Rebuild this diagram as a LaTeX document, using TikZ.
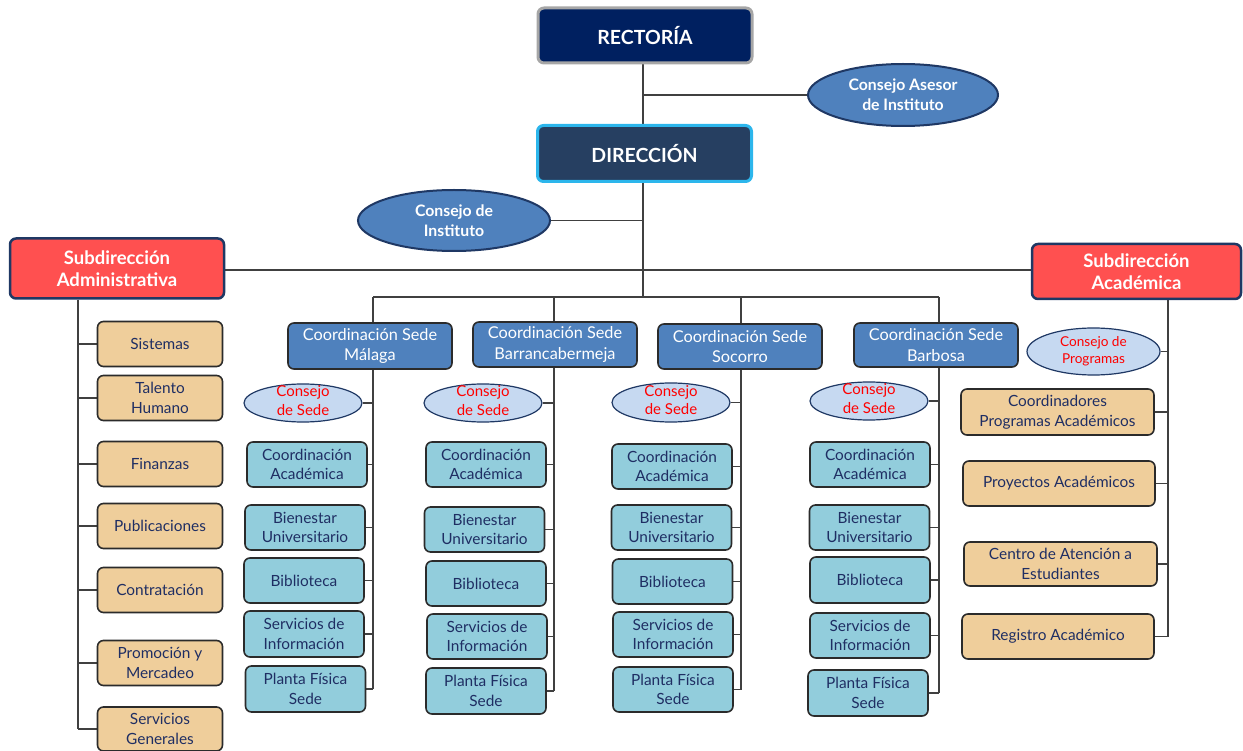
\documentclass[tikz,border=0pt]{standalone}
\usepackage{fontspec}
\setmainfont{Lato}
\usetikzlibrary{shapes.geometric,backgrounds}

\definecolor{rectfill}{HTML}{002060}
\definecolor{rectedge}{HTML}{A6A6A6}
\definecolor{dirfill}{HTML}{263F61}
\definecolor{diredge}{HTML}{2CB6EC}
\definecolor{steel}{HTML}{4F81BD}
\definecolor{navyedge}{HTML}{1F3864}
\definecolor{subred}{HTML}{FF5050}
\definecolor{paleblue}{HTML}{C6D9F1}
\definecolor{itemblue}{HTML}{92CDDC}
\definecolor{itemtan}{HTML}{EFCE9B}
\definecolor{itemedge}{HTML}{2B2B2B}
\definecolor{itemtext}{HTML}{1F2E63}
\definecolor{linec}{HTML}{404040}

% two-line label whose height does not enlarge the ellipse around it
\newcommand{\flattext}[1]{\smash{\raisebox{-3pt}{\begin{tabular}[c]{@{}c@{}}#1\end{tabular}}}}

\begin{document}
\begin{tikzpicture}[x=1pt,y=-1pt,
  base/.style={rounded corners=6pt, align=center, inner sep=0pt},
  topbox/.style={base, minimum width=214pt, minimum height=55pt, line width=3pt,
    text=white, font=\fontsize{19.5}{23}\selectfont\bfseries},
  subbox/.style={base, fill=subred, draw=navyedge, line width=2.5pt, text=white,
    font=\fontsize{18.5}{22.5}\selectfont\bfseries},
  sedebox/.style={base, fill=steel, draw=itemedge, line width=1.6pt, text=white,
    minimum width=164pt, minimum height=45pt, font=\fontsize{16.3}{20.5}\selectfont},
  bluebox/.style={base, fill=itemblue, draw=itemedge, line width=1.6pt, text=itemtext,
    minimum width=120pt, minimum height=45pt, font=\fontsize{15.4}{19.5}\selectfont},
  tanbox/.style={base, fill=itemtan, draw=itemedge, line width=1.6pt, text=itemtext,
    minimum height=45pt, font=\fontsize{15.4}{19.5}\selectfont},
  bigoval/.style={ellipse, fill=steel, draw=navyedge, line width=2pt, inner sep=0pt,
    align=center, text=white, font=\fontsize{15.8}{20}\selectfont\bfseries},
  smalloval/.style={ellipse, fill=paleblue, draw=navyedge, line width=1.2pt, inner sep=0pt,
    align=center, text=red, font=\fontsize{15}{18.5}\selectfont},
  conn/.style={draw=linec, line width=1.3pt}
]
\useasboundingbox (0,0) rectangle (1243,751);

% ---------- top of the chart ----------
\node[topbox, fill=rectfill, draw=rectedge] (rect) at (645,35.5) {RECTORÍA};
\node[topbox, fill=dirfill, draw=diredge, minimum height=56pt] (dir) at (644.5,153.5) {DIRECCIÓN};
\node[bigoval, minimum width=190pt, minimum height=62pt] (asesor) at (903,95) {Consejo Asesor\\de Instituto};
\node[bigoval, minimum width=192pt, minimum height=61pt] (cinst) at (454,220.5) {Consejo de\\Instituto};

\node[subbox, minimum width=214pt, minimum height=60pt] (sadm) at (117,268.5) {Subdirección\\Administrativa};
\node[subbox, minimum width=209pt, minimum height=55pt] (sacad) at (1136.5,271.5) {Subdirección\\Académica};

\coordinate (trunk) at (643,0);
\coordinate (subline) at (0,270);
\coordinate (sedebar) at (0,297);

% ---------- administrative units ----------
\coordinate (admline) at (78,0);
\node[tanbox, minimum width=125pt] (sist) at (160,344) {Sistemas};
\node[tanbox, minimum width=125pt] (tal)  at (160,398) {Talento\\Humano};
\node[tanbox, minimum width=125pt] (fin)  at (160,464) {Finanzas};
\node[tanbox, minimum width=125pt] (pub)  at (160,526) {Publicaciones};
\node[tanbox, minimum width=125pt] (contr) at (160,590) {Contratación};
\node[tanbox, minimum width=125pt] (prom) at (160,663) {Promoción y\\Mercadeo};
\node[tanbox, minimum width=125pt, minimum height=44pt] (sgen) at (160,729) {Servicios\\Generales};

% ---------- campus coordinations ----------
\node[sedebox, minimum height=46pt] (cmal) at (370,346) {Coordinación Sede\\Málaga};
\node[sedebox] (cbar) at (555,344.5) {Coordinación Sede\\Barrancabermeja};
\node[sedebox] (csoc) at (740,346.5) {Coordinación Sede\\Socorro};
\node[sedebox, minimum height=44pt] (cbab) at (936,345) {Coordinación Sede\\Barbosa};

\coordinate (vmal) at (373,0);
\coordinate (vbar) at (554,0);
\coordinate (vsoc) at (741,0);
\coordinate (vbab) at (939,0);

% Málaga
\node[smalloval, minimum width=118pt, minimum height=38pt] (kmal) at (303,403) {\flattext{Consejo\\de Sede}};
\node[bluebox] (amal) at (307,464.5) {Coordinación\\Académica};
\node[bluebox] (bmal) at (305,527.5) {Bienestar\\Universitario};
\node[bluebox] (lmal) at (304,580.5) {Biblioteca};
\node[bluebox, minimum height=46pt] (imal) at (304,634) {Servicios de\\Información};
\node[bluebox, minimum height=46pt] (pmal) at (305.5,689) {Planta Física\\Sede};

% Barrancabermeja
\node[smalloval, minimum width=118pt, minimum height=38pt] (kbar) at (483,403) {\flattext{Consejo\\de Sede}};
\node[bluebox] (abar) at (486,464.5) {Coordinación\\Académica};
\node[bluebox] (bbar) at (484.5,529.5) {Bienestar\\Universitario};
\node[bluebox] (lbar) at (486,583.5) {Biblioteca};
\node[bluebox] (ibar) at (487,636.5) {Servicios de\\Información};
\node[bluebox, minimum height=46pt] (pbar) at (486,691) {Planta Física\\Sede};

% Socorro
\node[smalloval, minimum width=118pt, minimum height=39pt] (ksoc) at (671,402.5) {\flattext{Consejo\\de Sede}};
\node[bluebox] (asoc) at (672,466.5) {Coordinación\\Académica};
\node[bluebox] (bsoc) at (671.5,527.5) {Bienestar\\Universitario};
\node[bluebox] (lsoc) at (672.5,581.5) {Biblioteca};
\node[bluebox] (isoc) at (673,634.5) {Servicios de\\Información};
\node[bluebox] (psoc) at (673,689.5) {Planta Física\\Sede};

% Barbosa
\node[smalloval, minimum width=118pt, minimum height=38pt] (kbab) at (869,401) {\flattext{Consejo\\de Sede}};
\node[bluebox] (abab) at (870,464.5) {Coordinación\\Académica};
\node[bluebox] (bbab) at (869.5,527.5) {Bienestar\\Universitario};
\node[bluebox, minimum height=46pt] (lbab) at (870,580) {Biblioteca};
\node[bluebox] (ibab) at (870,635.5) {Servicios de\\Información};
\node[bluebox, minimum height=46pt] (pbab) at (868,693) {Planta Física\\Sede};

% ---------- academic units ----------
\coordinate (acline) at (1168,0);
\node[smalloval, minimum width=133pt, minimum height=47pt, font=\fontsize{13.6}{17}\selectfont] (kprog) at (1093.5,351.5) {Consejo de\\Programas};
\node[tanbox, minimum width=193pt, minimum height=46pt] (cprog) at (1057.5,412) {Coordinadores\\Programas Académicos};
\node[tanbox, minimum width=192pt] (proy) at (1059,483.5) {Proyectos Académicos};
\node[tanbox, minimum width=193pt, minimum height=44pt] (cate) at (1060.5,564) {Centro de Atención a\\Estudiantes};
\node[tanbox, minimum width=192pt] (regi) at (1058,636.5) {Registro Académico};

% ---------- connectors ----------
\begin{scope}[on background layer]
  % direction trunk
  \draw[conn] (rect.south -| trunk) -- (dir.north -| trunk);
  \draw[conn] (trunk |- asesor.west) -- (asesor.west);
  \draw[conn] (dir.south -| trunk) -- (trunk |- sedebar);
  \draw[conn] (cinst.east) -- (trunk |- cinst.east);
  \draw[conn] (sadm.east |- subline) -- (sacad.west |- subline);
  \draw[conn] (vmal |- sedebar) -- (vbab |- sedebar);

  % administrative branch
  \draw[conn] (admline |- sadm.south) -- (admline |- sgen.west);
  \foreach \n in {sist,tal,fin,pub,contr,prom,sgen}
    \draw[conn] (admline |- \n.west) -- (\n.west);

  % campus branches
  \draw[conn] (vmal |- sedebar) -- (vmal |- pmal.east);
  \foreach \n in {kmal,amal,bmal,lmal,imal,pmal}
    \draw[conn] (\n.east) -- (vmal |- \n.east);
  \draw[conn] (vbar |- sedebar) -- (vbar |- pbar.east);
  \foreach \n in {kbar,abar,bbar,lbar,ibar,pbar}
    \draw[conn] (\n.east) -- (vbar |- \n.east);
  \draw[conn] (vsoc |- sedebar) -- (vsoc |- psoc.east);
  \foreach \n in {ksoc,asoc,bsoc,lsoc,isoc,psoc}
    \draw[conn] (\n.east) -- (vsoc |- \n.east);
  \draw[conn] (vbab |- sedebar) -- (vbab |- pbab.east);
  \foreach \n in {kbab,abab,bbab,lbab,ibab,pbab}
    \draw[conn] (\n.east) -- (vbab |- \n.east);

  % academic branch
  \draw[conn] (acline |- sacad.south) -- (acline |- regi.east);
  \foreach \n in {kprog,cprog,proy,cate,regi}
    \draw[conn] (\n.east) -- (acline |- \n.east);
\end{scope}
\end{tikzpicture}
\end{document}
